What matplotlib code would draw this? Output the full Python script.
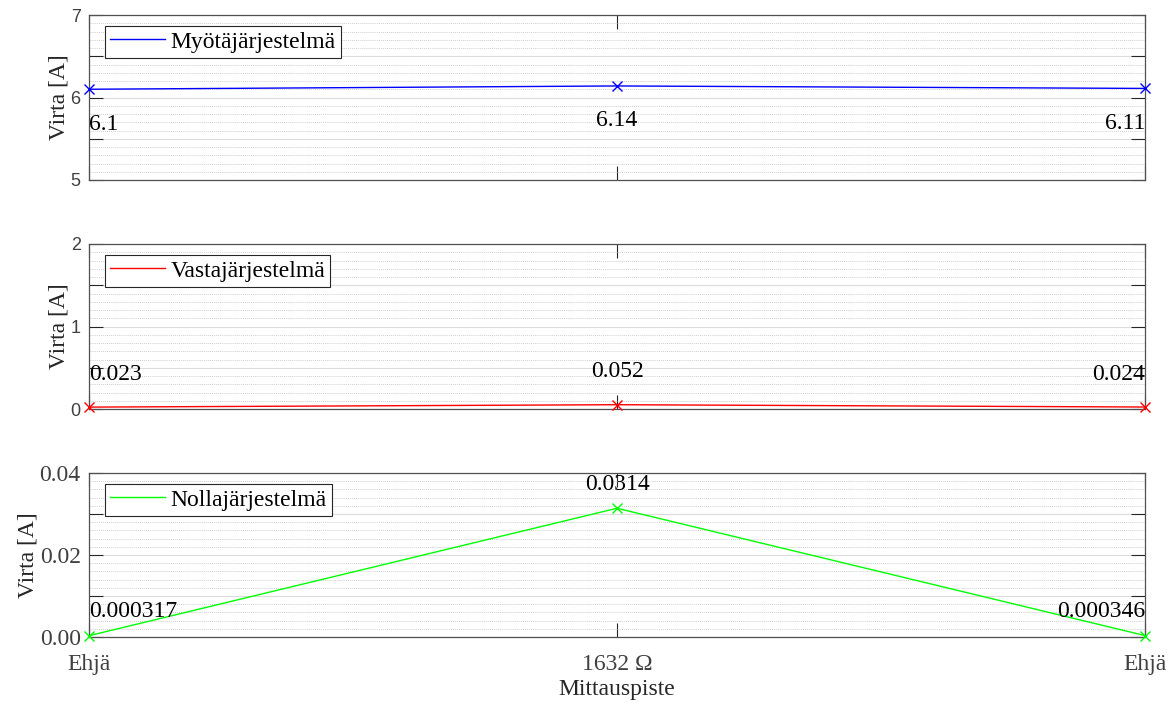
import numpy as np
import matplotlib.pyplot as plt
from matplotlib.lines import Line2D
from matplotlib.ticker import FixedLocator, FixedFormatter

# measurement points and symmetrical component currents
points = [1, 2, 3]
point_labels = ["Ehjä", "1632 Ω", "Ehjä"]
positive_seq = [6.10, 6.14, 6.11]
negative_seq = [0.023, 0.052, 0.024]
zero_seq = [0.000317, 0.0314, 0.000346]
positive_text = ["6.1", "6.14", "6.11"]
negative_text = ["0.023", "0.052", "0.024"]
zero_text = ["0.000317", "0.0314", "0.000346"]

# y ticks per panel (labelled every second tick)
pos_ticks = [5, 5.5, 6, 6.5, 7]
pos_tick_labels = ["5", "", "6", "", "7"]
neg_ticks = [0, 0.5, 1, 1.5, 2]
neg_tick_labels = ["0", "", "1", "", "2"]
zero_ticks = [0, 0.01, 0.02, 0.03, 0.04]
zero_tick_labels = ["0.00", "", "0.02", "", "0.04"]

SERIF = ["Liberation Serif", "DejaVu Serif"]
SANS = ["Liberation Sans", "DejaVu Sans"]
AX_GRAY = "#262626"
TICK_GRAY = "#404040"
FS = 17

plt.rcParams["font.family"] = SERIF

fig = plt.figure(figsize=(11.76, 7.04), dpi=100)
W, H = 1176, 704


def make_axes(top_px, bottom_px):
    left, right = 89, 1145
    return fig.add_axes([left / W, 1 - bottom_px / H,
                         (right - left) / W, (bottom_px - top_px) / H])


panels = [
    dict(box=(15, 180), y=positive_seq, txt=positive_text, color="#0000ff",
         name="Myötäjärjestelmä", ylim=(5, 7), minor=0.1,
         ticks=pos_ticks, tlabels=pos_tick_labels, sans=True, off=-35),
    dict(box=(244, 409), y=negative_seq, txt=negative_text, color="#ff0000",
         name="Vastajärjestelmä", ylim=(0, 2), minor=0.1,
         ticks=neg_ticks, tlabels=neg_tick_labels, sans=True, off=33),
    dict(box=(473, 637), y=zero_seq, txt=zero_text, color="#00ff00",
         name="Nollajärjestelmä", ylim=(0, 0.04), minor=0.002,
         ticks=zero_ticks, tlabels=zero_tick_labels, sans=False, off=24),
]

for i, p in enumerate(panels):
    ax = make_axes(*p["box"])
    ax.plot(points, p["y"], color=p["color"], linewidth=1.0, marker="x",
            markersize=7, markeredgewidth=1.0, clip_on=False, zorder=3)
    ax.set_xlim(1, 3)
    ax.set_ylim(*p["ylim"])

    # y grid: solid at major ticks, dotted at minor
    lo, hi = p["ylim"]
    minor = np.linspace(lo, hi, int(round((hi - lo) / p["minor"])) + 1)
    ax.yaxis.set_major_locator(FixedLocator(p["ticks"]))
    ax.yaxis.set_major_formatter(FixedFormatter(p["tlabels"]))
    ax.yaxis.set_minor_locator(FixedLocator(minor))
    ax.grid(True, which="major", axis="y", color="#dcdcdc", linewidth=0.8)
    ax.grid(True, which="minor", axis="y", color="#d0d0d0", linewidth=0.7,
            linestyle=(0, (1, 1)))
    ax.set_axisbelow(True)

    ax.xaxis.set_major_locator(FixedLocator(points))
    if i == 2:
        ax.set_xticklabels(point_labels, fontsize=FS, color=TICK_GRAY)
        ax.set_xlabel("Mittauspiste", fontsize=FS, color=AX_GRAY, labelpad=3)
    else:
        ax.set_xticklabels([])

    ax.tick_params(which="major", direction="in", length=10, width=0.8,
                   color=AX_GRAY, top=True, right=True, pad=6)
    ax.tick_params(which="minor", length=0)
    ax.tick_params(axis="x", pad=12)
    for lbl in ax.get_yticklabels():
        lbl.set_color(TICK_GRAY)
        if p["sans"]:
            lbl.set_family(SANS)
            lbl.set_fontsize(13)
        else:
            lbl.set_fontsize(FS)
    for s in ax.spines.values():
        s.set_color("#505050")
        s.set_linewidth(0.9)

    ax.set_ylabel("Virta [A]", fontsize=FS, color=AX_GRAY, labelpad=1)

    # value labels next to each measurement
    aligns = ["left", "center", "right"]
    for xv, yv, t, ha in zip(points, p["y"], p["txt"], aligns):
        ax.annotate(t, (xv, yv), xytext=(0, p["off"]), textcoords="offset pixels",
                    ha=ha, va="center", fontsize=FS, color="black", zorder=4)

    handle = Line2D([], [], color=p["color"], linewidth=1.0)
    leg = ax.legend([handle], [p["name"]], loc="upper left",
                    bbox_to_anchor=(16 / 1056, 1 - 11 / 165),
                    borderaxespad=0, fontsize=FS, handlelength=2.3,
                    handletextpad=0.25, borderpad=0.22, fancybox=False,
                    framealpha=1, edgecolor=AX_GRAY)
    leg.get_frame().set_linewidth(0.8)

fig.savefig("out.png", dpi=100)
